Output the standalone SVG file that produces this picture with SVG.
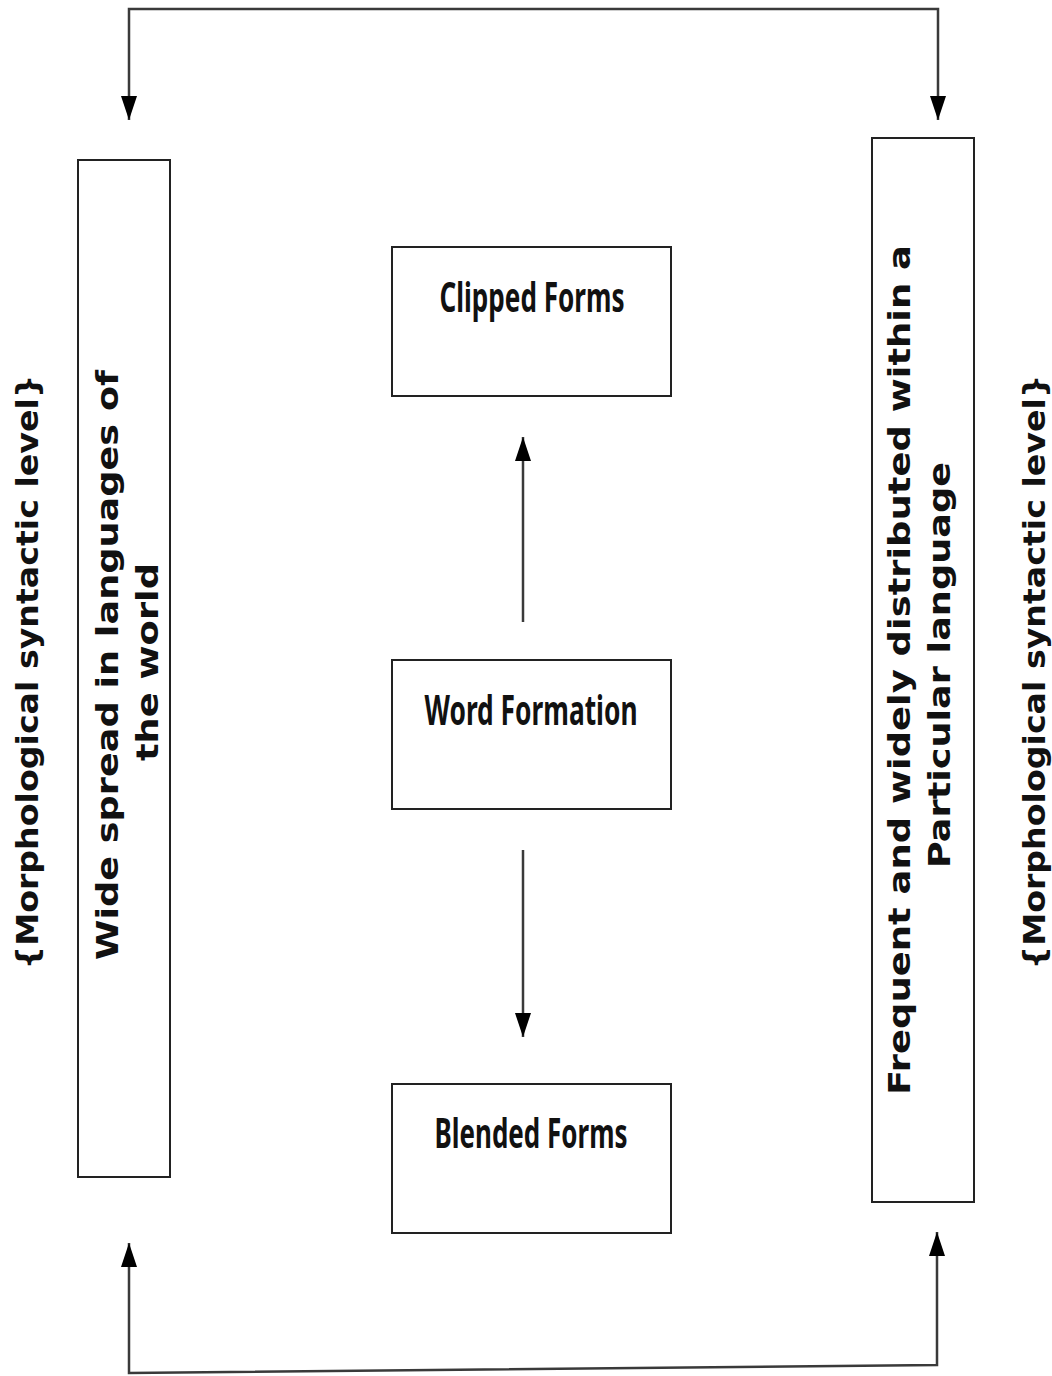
<svg xmlns="http://www.w3.org/2000/svg" width="1052" height="1376" viewBox="0 0 1052 1376">
  <style>
    .box { fill: #ffffff; stroke: #222222; stroke-width: 2; }
    .wire { fill: none; stroke: #3a3a3a; stroke-width: 2.5; }
    .vlabel { font-family: "DejaVu Sans", Verdana, sans-serif; font-weight: bold; font-size: 31px; fill: #111111; text-anchor: middle; }
    .hlabel { font-family: "Noto Sans", "Open Sans", sans-serif; font-weight: bold; font-size: 28px; fill: #111111; text-anchor: middle; }
  </style>
  <defs>
    <marker id="head" markerUnits="userSpaceOnUse" markerWidth="26" markerHeight="18" refX="24" refY="8" orient="auto-start-reverse" viewBox="0 0 26 18">
      <path d="M0,0 L24,8 L0,16 z" fill="#000000"/>
    </marker>
  </defs>
  <rect x="0" y="0" width="1052" height="1376" fill="#ffffff"/>

  <!-- connectors -->
  <g id="connectors">
    <path class="wire" d="M129,120 V9 H938 V120" marker-start="url(#head)" marker-end="url(#head)"/>
    <path class="wire" d="M129,1243 V1373 L937,1365 V1232" marker-start="url(#head)" marker-end="url(#head)"/>
    <path class="wire" d="M523,622 V437" marker-end="url(#head)"/>
    <path class="wire" d="M523,850 V1037" marker-end="url(#head)"/>
  </g>

  <!-- side annotations -->
  <g id="level-left">
    <text class="vlabel" transform="translate(38,672) rotate(-90)" textLength="595" lengthAdjust="spacingAndGlyphs">{Morphological syntactic level}</text>
  </g>
  <g id="level-right">
    <text class="vlabel" transform="translate(1045,672) rotate(-90)" textLength="595" lengthAdjust="spacingAndGlyphs">{Morphological syntactic level}</text>
  </g>

  <!-- left column box -->
  <g id="wide-spread">
    <rect class="box" x="78" y="160" width="92" height="1017"/>
    <text class="vlabel" transform="translate(118,665) rotate(-90)" textLength="590" lengthAdjust="spacingAndGlyphs">Wide spread in languages of</text>
    <text class="vlabel" transform="translate(158,662) rotate(-90)" textLength="198" lengthAdjust="spacingAndGlyphs">the world</text>
  </g>

  <!-- right column box -->
  <g id="frequent">
    <rect class="box" x="872" y="138" width="102" height="1064"/>
    <text class="vlabel" transform="translate(910,670) rotate(-90)" textLength="850" lengthAdjust="spacingAndGlyphs">Frequent and widely distributed within a</text>
    <text class="vlabel" transform="translate(950,665) rotate(-90)" textLength="406" lengthAdjust="spacingAndGlyphs">Particular language</text>
  </g>

  <!-- centre column -->
  <g id="clipped-forms">
    <rect class="box" x="392" y="247" width="279" height="149"/>
    <text class="hlabel" transform="translate(532,312) scale(1,1.5)" textLength="185" lengthAdjust="spacingAndGlyphs">Clipped Forms</text>
  </g>
  <g id="word-formation">
    <rect class="box" x="392" y="660" width="279" height="149"/>
    <text class="hlabel" transform="translate(531,725) scale(1,1.5)" textLength="213" lengthAdjust="spacingAndGlyphs">Word Formation</text>
  </g>
  <g id="blended-forms">
    <rect class="box" x="392" y="1084" width="279" height="149"/>
    <text class="hlabel" transform="translate(531,1148) scale(1,1.5)" textLength="193" lengthAdjust="spacingAndGlyphs">Blended Forms</text>
  </g>
</svg>
